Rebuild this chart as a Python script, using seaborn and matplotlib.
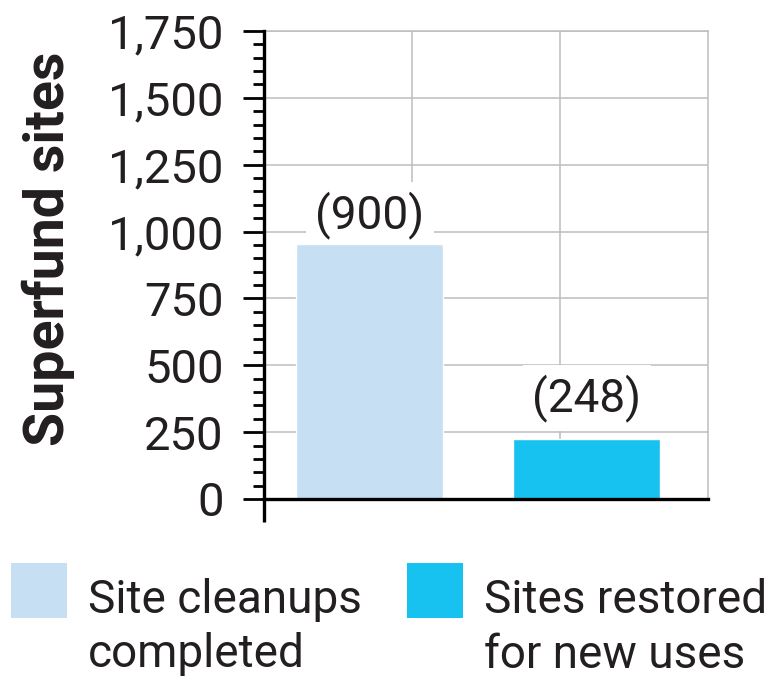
import matplotlib
matplotlib.use("Agg")
import matplotlib.pyplot as plt
from matplotlib.patches import Rectangle
from matplotlib.ticker import MultipleLocator, FuncFormatter
import seaborn as sns
import pandas as pd

# data
categories = ["Site cleanups\ncompleted", "Sites restored\nfor new uses"]
bar_heights = [955, 225]
bar_labels = ["(900)", "(248)"]
colors = ["#c6dff3", "#17c2f0"]

df = pd.DataFrame({"kind": categories, "sites": bar_heights})

sns.set_style("white")
plt.rcParams["font.family"] = ["Roboto", "DejaVu Sans"]
plt.rcParams["text.color"] = "#231f20"

fig = plt.figure(figsize=(7.69, 6.82), dpi=100)
ax = fig.add_axes([264 / 769, 1 - 499 / 682, 444 / 769, 468 / 682])

sns.barplot(data=df, x="kind", y="sites", hue="kind", palette=colors,
            width=0.677, legend=False, saturation=1, ax=ax, zorder=2)

ax.set_xlim(-0.488, 1.558)
ax.set_ylim(0, 1750)
ax.yaxis.set_major_locator(MultipleLocator(250))
ax.yaxis.set_minor_locator(MultipleLocator(50))
ax.yaxis.set_major_formatter(FuncFormatter(lambda v, p: f"{int(v):,}"))
ax.set_xticks([0.194, 0.876])
ax.set_xticklabels([])
ax.set_xlabel("")
ax.set_ylabel("Superfund sites", fontsize=40, fontweight="bold", color="#231f20")
ax.yaxis.set_label_coords(-0.425, 0.535)

ax.grid(True, color="#bdbdbd", linewidth=1.1, zorder=0)
ax.set_axisbelow(True)
ax.tick_params(axis="x", length=0)
ax.tick_params(axis="y", which="major", length=15, width=2, color="black",
               labelsize=34, pad=14, left=True, labelcolor="#231f20")
ax.tick_params(axis="y", which="minor", length=8, width=2, color="black", left=True)

for side in ["top", "right"]:
    ax.spines[side].set_color("#bdbdbd")
    ax.spines[side].set_linewidth(1.1)
for side in ["left", "bottom"]:
    ax.spines[side].set_color("black")
    ax.spines[side].set_linewidth(2.4)
    ax.spines[side].set_zorder(3)
# left axis line runs a little below zero
ax.plot([0, 0], [0, -0.05], transform=ax.transAxes, color="black",
        linewidth=2.4, clip_on=False, solid_capstyle="butt")

pads = [3, 12]
for cont, lab, pad in zip(ax.containers, bar_labels, pads):
    txts = ax.bar_label(cont, labels=[lab], padding=pad, fontsize=33)
    for t in txts:
        t.set_bbox(dict(facecolor="white", edgecolor="none", boxstyle="square,pad=0.2"))
        t.set_zorder(1.5)  # over the grid, under the bars

# legend drawn by hand so the swatch sits on the first line
legend_x = [11, 407]
for x0, lab, col in zip(legend_x, categories, colors):
    fig.patches.append(Rectangle((x0 / 769, 1 - 618 / 682), 56 / 769, 55 / 682,
                                 transform=fig.transFigure, facecolor=col,
                                 edgecolor="none"))
    fig.text((x0 + 77) / 769, 1 - 578 / 682, lab, fontsize=33,
             va="top", ha="left", linespacing=1.3)

fig.savefig("out.png", dpi=100)
